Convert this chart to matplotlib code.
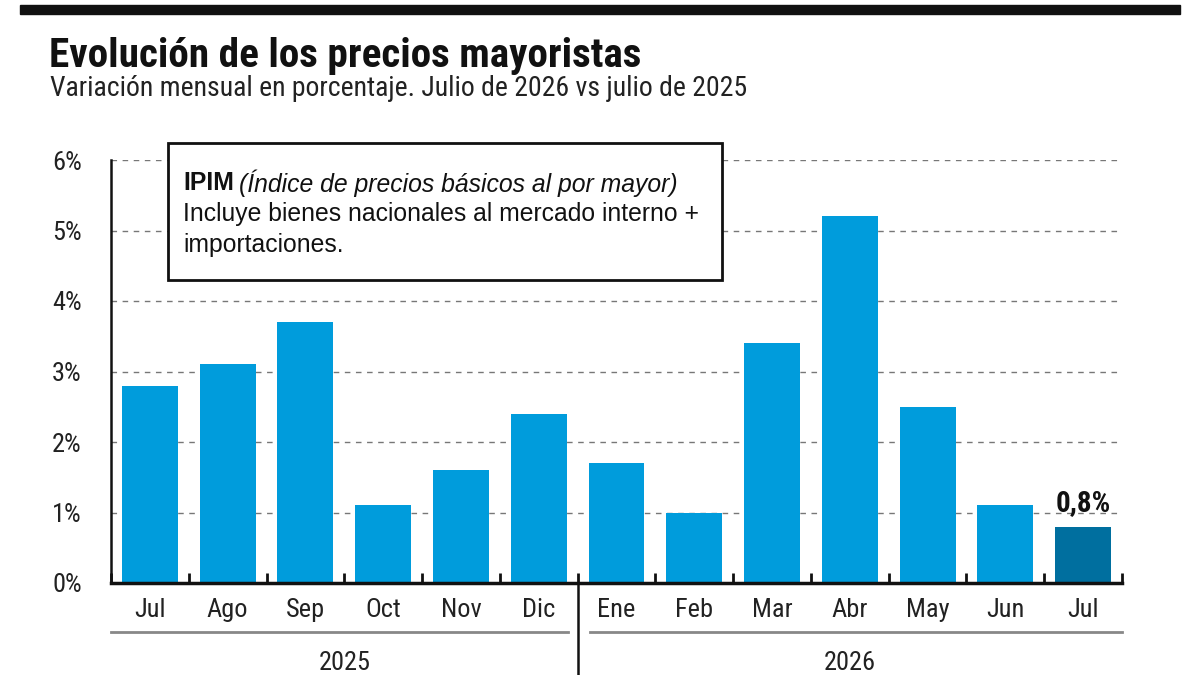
import matplotlib
matplotlib.use("Agg")
import matplotlib.pyplot as plt
from matplotlib.patches import Rectangle
from matplotlib.lines import Line2D

# Datos: variacion mensual del IPIM (%)
meses = ["Jul", "Ago", "Sep", "Oct", "Nov", "Dic",
         "Ene", "Feb", "Mar", "Abr", "May", "Jun", "Jul"]
valores = [2.8, 3.1, 3.7, 1.1, 1.6, 2.4, 1.7, 1.0, 3.4, 5.2, 2.5, 1.1, 0.8]
anios = ["2025", "2026"]
yticks = [0, 1, 2, 3, 4, 5, 6]

NARROW = ["Roboto Condensed", "Archivo Narrow", "DejaVu Sans"]
ARIAL = ["Liberation Sans", "DejaVu Sans"]

azul = "#009cdc"
azul_osc = "#006f9f"

fig = plt.figure(figsize=(12, 6.75), dpi=100)
W, H = 1200, 675

def fx(px):
    return px / W

def fy(py):
    return 1 - py / H

# barra negra superior
fig.patches.append(Rectangle((fx(20), fy(14)), fx(1160), 9 / H,
                             transform=fig.transFigure, color="#111111"))

fig.text(fx(49), fy(56), "Evolución de los precios mayoristas",
         family=NARROW, fontweight="bold", fontsize=29.6, va="center", color="#111")
fig.text(fx(50), fy(89), "Variación mensual en porcentaje. Julio de 2026 vs julio de 2025",
         family=NARROW, fontsize=20, va="center", color="#222")

ax = fig.add_axes([fx(111), fy(583), fx(1122 - 111), (583 - 160) / H])
x = list(range(len(meses)))
colores = [azul] * (len(meses) - 1) + [azul_osc]
ax.bar(x, valores, width=0.72, color=colores, zorder=2)

ax.set_xlim(-0.5, len(meses) - 0.5)
ax.set_ylim(0, 6)
ax.set_yticks(yticks)
ax.set_yticklabels([f"{v}%" for v in yticks], family=NARROW, fontsize=19, color="#222")
for v in yticks[1:]:
    ax.axhline(v, color="#777", lw=1, ls=(0, (4, 4)), zorder=1)

ax.set_xticks(x)
ax.set_xticklabels(meses, family=NARROW, fontsize=19, color="#222")
ax.set_xticks([i - 0.5 for i in range(len(meses) + 1)], minor=True)
ax.tick_params(axis="x", which="major", length=0, pad=11)
ax.tick_params(axis="x", which="minor", direction="in", length=7, width=2, color="#111")
ax.tick_params(axis="y", length=0, pad=21)

for s in ["top", "right"]:
    ax.spines[s].set_visible(False)
ax.spines["bottom"].set_linewidth(2.5)
ax.spines["bottom"].set_color("#111")
ax.spines["left"].set_linewidth(1.8)
ax.spines["left"].set_color("#111")

# etiqueta del ultimo valor
ax.text(x[-1], valores[-1] + 0.33, "0,8%", ha="center", va="center",
        family=NARROW, fontweight="bold", fontsize=21, color="#111")

# recuadro explicativo
fig.patches.append(Rectangle((fx(168), fy(280)), fx(722 - 168), (280 - 143) / H,
                             transform=fig.transFigure, facecolor="white",
                             edgecolor="#111", lw=2, zorder=5))
fs_box = 17.8
t1 = fig.text(fx(183), fy(183), "IPIM", family=ARIAL, fontweight="bold",
              fontsize=fs_box, va="center", color="#111", zorder=6)
fig.canvas.draw()
bb = t1.get_window_extent()
fig.text(bb.x1 / W + fx(5), fy(183), "(Índice de precios básicos al por mayor)",
         family=ARIAL, style="italic", fontsize=fs_box, va="center", color="#111", zorder=6)
fig.text(fx(183), fy(214), "Incluye bienes nacionales al mercado interno +",
         family=ARIAL, fontsize=fs_box, va="center", color="#111", zorder=6)
fig.text(fx(183), fy(245), "importaciones.",
         family=ARIAL, fontsize=fs_box, va="center", color="#111", zorder=6)

# separadores de anio
fig.lines.append(Line2D([fx(111), fx(568)], [fy(632), fy(632)],
                        transform=fig.transFigure, color="#888", lw=2))
fig.lines.append(Line2D([fx(590), fx(1122)], [fy(632), fy(632)],
                        transform=fig.transFigure, color="#888", lw=2))
fig.lines.append(Line2D([fx(578), fx(578)], [fy(584), 0],
                        transform=fig.transFigure, color="#111", lw=1.8))
fig.text(fx(345), fy(663), anios[0], family=NARROW, fontsize=19,
         ha="center", va="center", color="#222")
fig.text(fx(850), fy(663), anios[1], family=NARROW, fontsize=19,
         ha="center", va="center", color="#222")

fig.savefig("out.png", dpi=100, facecolor="white")
